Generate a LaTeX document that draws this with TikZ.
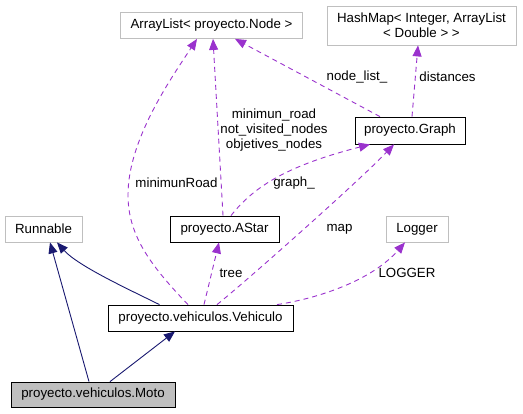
\documentclass[tikz,border=0pt]{standalone}
\usepackage{fontspec}
\setmainfont{Liberation Sans}
\usetikzlibrary{arrows.meta}
\definecolor{boxgray}{HTML}{BFBFBF}
\definecolor{depcol}{HTML}{9A32CD}
\definecolor{inhcol}{HTML}{191970}

\begin{document}
\begin{tikzpicture}[x=1bp,y=-1bp,
  font=\fontsize{13.3bp}{15bp}\selectfont,
  cls/.style={draw=black,line width=0.8bp,inner sep=0pt,minimum height=26bp},
  ext/.style={cls,draw=boxgray},
  inh/.style={draw=inhcol,line width=0.9bp,-{Triangle[length=11bp,width=9bp]}},
  dep/.style={draw=depcol,line width=0.9bp,dash pattern=on 5bp off 4bp,
    -{Triangle[length=11bp,width=9bp]}},
  lbl/.style={inner sep=0pt,align=center}]
  \useasboundingbox (0,0) rectangle (523,413);
  % classes
  \node[ext,minimum width=182bp] (arr) at (211.5,25.5) {ArrayList< proyecto.Node >};
  \node[ext,minimum width=189bp,minimum height=39bp,align=center] (hash) at (421.5,25.5)
    {HashMap< Integer, ArrayList\\< Double > >};
  \node[cls,minimum width=110bp,minimum height=27bp] (graph) at (410,130.5) {proyecto.Graph};
  \node[ext,minimum width=77bp] (run) at (43.5,229) {Runnable};
  \node[cls,minimum width=109bp] (astar) at (224.5,229) {proyecto.AStar};
  \node[ext,minimum width=62bp] (logger) at (417,229) {Logger};
  \node[cls,minimum width=185bp] (veh) at (200.5,318) {proyecto.vehiculos.Vehiculo};
  \node[cls,fill=boxgray,minimum width=164bp,minimum height=25bp] (moto) at (93,394.5)
    {proyecto.vehiculos.Moto};
  % inheritance
  \draw[inh] ([xshift=-41bp]veh.north) .. controls (130,290) and (78,266) .. ([xshift=13.5bp]run.south);
  \draw[inh] ([xshift=-4bp]moto.north) -- ([xshift=6.5bp]run.south);
  \draw[inh] ([xshift=17bp]moto.north) -- ([xshift=-25.5bp]veh.south);
  % usage
  \draw[dep] ([xshift=-12.5bp]veh.north) .. controls (150,265) and (128,235) .. (128,195)
    .. controls (128,140) and (170,80) .. ([xshift=-14.5bp]arr.south);
  \draw[dep] ([xshift=-1.5bp]astar.north) -- ([xshift=1.5bp]arr.south);
  \draw[dep] ([xshift=-30bp]graph.north) -- ([xshift=23.5bp]arr.south);
  \draw[dep] ([xshift=2bp]graph.north) -- ([xshift=-3.5bp]hash.south);
  \draw[dep] ([xshift=6.5bp]astar.north) .. controls (255,185) and (290,165) .. ([xshift=-40bp]graph.south);
  \draw[dep] ([xshift=16.5bp]veh.north) .. controls (250,278) and (360,180) .. ([xshift=-16bp]graph.south);
  \draw[dep] ([xshift=3.5bp]veh.north) -- ([xshift=-5.5bp]astar.south);
  \draw[dep] ([xshift=76.5bp]veh.north) .. controls (320,298) and (372,280) .. ([xshift=-12bp]logger.south);
  % labels
  \node[lbl] (lnl) at (357,77) {node\_list\_};
  \node[lbl] (ldist) at (447.5,77) {distances};
  \node[lbl] (lroad) at (274,130) {minimun\_road\\not\_visited\_nodes\\objetives\_nodes};
  \node[lbl] (lmin) at (176.5,183) {minimunRoad};
  \node[lbl] (lgr) at (294,183) {graph\_};
  \node[lbl] (lmap) at (339.5,229) {map};
  \node[lbl] (ltree) at (231,273) {tree};
  \node[lbl] (llog) at (407,273) {LOGGER};
\end{tikzpicture}
\end{document}
